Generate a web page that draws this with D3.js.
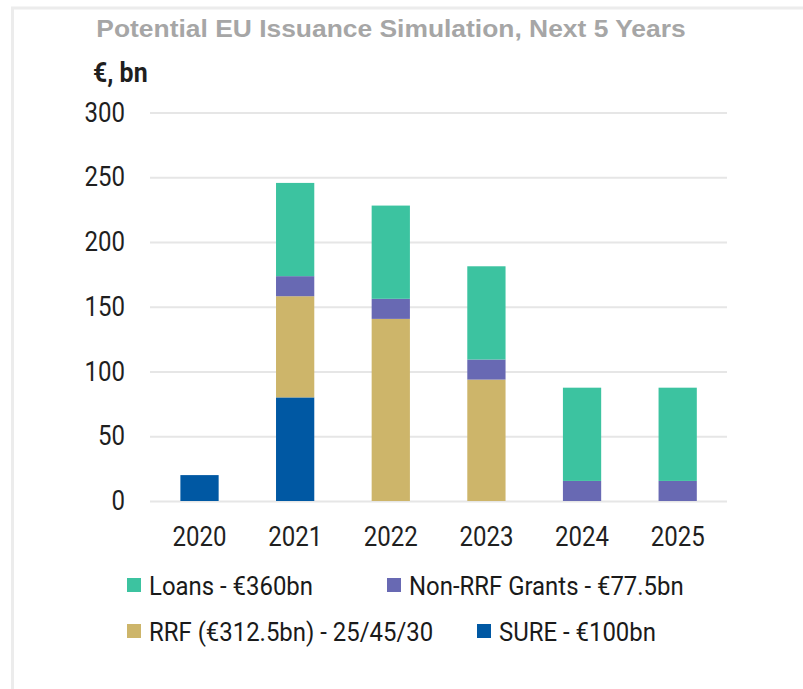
<!DOCTYPE html>
<html>
<head>
<meta charset="utf-8">
<script src="https://cdn.jsdelivr.net/npm/d3@7"></script>
<style>
  html, body { margin: 0; padding: 0; background: #fff; }
  svg { display: block; }
  .cond { font-family: Roboto, "Noto Sans", sans-serif; }
</style>
</head>
<body>
<svg id="chart" width="803" height="689"></svg>
<script>
// Issuance by year, € bn
const years = ["2020", "2021", "2022", "2023", "2024", "2025"];
const sure = [20, 80, 0, 0, 0, 0];
const rrf = [0, 78.125, 140.625, 93.75, 0, 0];
const nonRrfGrants = [0, 15.5, 15.5, 15.5, 15.5, 15.5];
const loans = [0, 72, 72, 72, 72, 72];
const yTicks = [0, 50, 100, 150, 200, 250, 300];

const seriesKeys = ["sure", "rrf", "nonRrf", "loans"];
const seriesColors = { sure: "#0058a3", rrf: "#cdb56a", nonRrf: "#6869b3", loans: "#3cc3a0" };
const legendRows = [
  [{ key: "loans", label: "Loans - €360bn" }, { key: "nonRrf", label: "Non-RRF Grants - €77.5bn" }],
  [{ key: "rrf", label: "RRF (€312.5bn) - 25/45/30" }, { key: "sure", label: "SURE - €100bn" }]
];

const rows = years.map((yr, i) => ({
  year: yr, sure: sure[i], rrf: rrf[i], nonRrf: nonRrfGrants[i], loans: loans[i]
}));

const svg = d3.select("#chart");
const W = 803, H = 689;

// light frame around the panel
svg.append("rect")
  .attr("x", 12.5).attr("y", 8)
  .attr("width", W).attr("height", H)
  .attr("fill", "none").attr("stroke", "#ececec").attr("stroke-width", 3);

// title
const title = svg.append("text")
  .attr("x", 391).attr("y", 37)
  .attr("text-anchor", "middle")
  .attr("font-family", "'Liberation Sans', Arial, sans-serif")
  .attr("font-weight", "bold")
  .attr("font-size", 24)
  .attr("fill", "#a6a6a6")
  .text("Potential EU Issuance Simulation, Next 5 Years");
title.attr("textLength", title.node().getComputedTextLength() * 1.1)
  .attr("lengthAdjust", "spacingAndGlyphs");

// unit label
svg.append("text")
  .attr("class", "cond")
  .attr("x", 93).attr("y", 82)
  .attr("font-weight", "bold")
  .attr("font-size", 28)
  .attr("fill", "#1f1f1f")
  .text("€, bn");

const plotLeft = 150, plotRight = 727;
const y = d3.scaleLinear().domain([0, 300]).range([501, 112.5]);
const x = d3.scaleBand().domain(years).range([151.7, 725.5])
  .paddingInner(0.6).paddingOuter(0.3);

// y axis with gridlines
const yAxis = svg.append("g")
  .attr("transform", `translate(${plotLeft},0)`)
  .call(d3.axisLeft(y).tickValues(yTicks).tickFormat(d3.format("d"))
    .tickSize(-(plotRight - plotLeft)).tickPadding(25));
yAxis.select(".domain").remove();
yAxis.selectAll(".tick line").attr("stroke", "#e6e6e6").attr("stroke-width", 2);
yAxis.selectAll(".tick text")
  .attr("class", "cond")
  .attr("font-size", 27)
  .attr("fill", "#1f1f1f");

// stacked bars
const stacked = d3.stack().keys(seriesKeys)(rows);
svg.append("g").selectAll("g")
  .data(stacked)
  .join("g")
  .attr("fill", d => seriesColors[d.key])
  .selectAll("rect")
  .data(d => d.filter(s => s[1] - s[0] > 0))
  .join("rect")
  .attr("x", d => x(d.data.year))
  .attr("width", x.bandwidth())
  .attr("y", d => y(d[1]))
  .attr("height", d => y(d[0]) - y(d[1]));

// x axis labels
const xAxis = svg.append("g")
  .attr("transform", `translate(0,${y(0)})`)
  .call(d3.axisBottom(x).tickSize(0).tickPadding(26));
xAxis.select(".domain").remove();
xAxis.selectAll(".tick text")
  .attr("class", "cond")
  .attr("font-size", 27)
  .attr("fill", "#1f1f1f");

// legend: two rows, second entry of each row starts after the first one
const legendCols = [[127, 387], [127, 477]];
const rowY = [578, 624];
const legend = svg.append("g");
legendRows.forEach((row, r) => {
  row.forEach((item, c) => {
    const lx = legendCols[r][c];
    legend.append("rect")
      .attr("x", lx).attr("y", rowY[r])
      .attr("width", 14).attr("height", 14)
      .attr("fill", seriesColors[item.key]);
    legend.append("text")
      .attr("class", "cond legend-label")
      .attr("x", lx + 22).attr("y", rowY[r] + 17)
      .attr("font-size", 26)
      .attr("fill", "#1a1a1a")
      .text(item.label);
  });
});

// narrow the Roboto text to a condensed width
svg.selectAll("text.cond").each(function () {
  const len = this.getComputedTextLength();
  const k = this.classList.contains("legend-label") ? 0.92 : 0.89;
  d3.select(this).attr("textLength", len * k).attr("lengthAdjust", "spacingAndGlyphs");
});
</script>
</body>
</html>
